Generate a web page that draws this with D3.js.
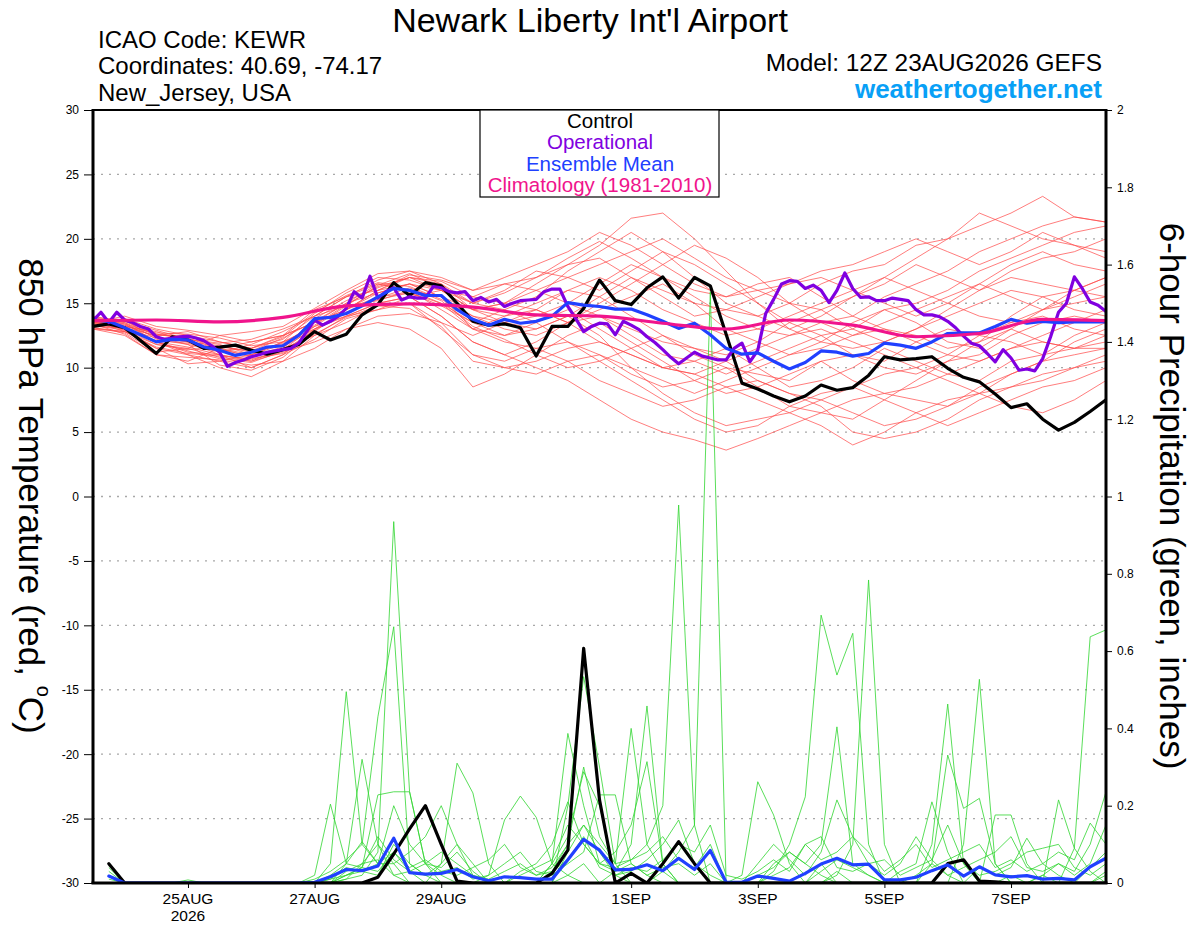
<!DOCTYPE html>
<html><head><meta charset="utf-8">
<script src="https://cdn.jsdelivr.net/npm/d3@7"></script>
<style>
body{margin:0;background:#fff}
svg{display:block}
text{font-family:"Liberation Sans",Arial,Helvetica,sans-serif}
</style>
</head><body>
<svg id="chart" width="1200" height="927"></svg>
<script>
// ---------------- DATA ----------------
const tempTicks = [-30,-25,-20,-15,-10,-5,0,5,10,15,20,25,30];
const precipTicks = [0,0.2,0.4,0.6,0.8,1,1.2,1.4,1.6,1.8,2];
const dateTickDays = ["2026-08-25","2026-08-27","2026-08-29","2026-09-01","2026-09-03","2026-09-05","2026-09-07"];
const dateTickLabels = ["25AUG","27AUG","29AUG","1SEP","3SEP","5SEP","7SEP"];
const legendLabels = ["Control","Operational","Ensemble Mean","Climatology (1981-2010)"];

// control 850 hPa temperature, 6-hourly from 12Z 23AUG
const controlTemp = [13.2,13.4,13.1,12.1,11.1,12.4,12.15,11.5,11.6,11.75,11.35,11.05,11.4,11.8,12.8,12.15,12.6,14.1,14.9,16.6,15.6,16.6,16.35,15.0,13.6,13.3,13.4,13.1,10.9,13.2,13.2,14.6,16.8,15.2,14.9,16.2,17.05,15.4,17.0,16.35,12.6,8.8,8.35,7.8,7.35,7.8,8.65,8.25,8.45,9.4,10.85,10.6,10.7,10.85,9.95,9.25,8.9,7.95,6.9,7.2,6.0,5.15,5.75,6.6,7.5];
// operational run, 3-hourly
const operationalTemp = [13.65,14.3,13.5,14.3,13.7,13.5,13.2,13.0,12.4,12.2,
 12.3,12.4,12.45,12.3,12.1,11.7,11.2,10.1,10.4,10.6,
 10.85,11.0,11.2,11.3,11.4,11.5,11.9,12.8,13.7,13.3,
 13.6,14.0,14.6,15.9,15.4,17.1,15.4,15.9,16.2,15.25,
 15.5,15.4,15.4,16.3,16.2,15.9,15.8,15.9,15.2,15.45,
 15.1,15.3,14.75,15.0,15.2,15.25,15.3,15.9,16.1,16.1,
 14.75,13.8,12.8,13.2,13.45,13.4,12.55,13.6,13.3,12.95,
 12.4,11.95,11.4,10.8,10.3,10.75,11.2,10.9,10.75,10.6,
 10.6,11.5,11.9,10.45,11.35,14.2,15.3,16.5,16.75,16.7,
 16.15,16.4,16.0,15.05,16.0,17.35,16.15,15.45,15.5,15.2,
 15.2,15.4,15.3,15.2,14.5,14.1,14.1,13.95,13.6,13.1,
 12.45,11.9,11.7,11.1,10.45,11.4,10.75,9.8,9.9,9.75,
 10.7,12.4,14.3,15.0,17.05,16.15,15.1,14.85,14.35];
// ensemble mean, 6-hourly
const meanTemp = [13.7,13.6,13.1,12.55,12.0,12.2,12.15,11.6,11.35,10.95,11.2,11.6,11.7,12.5,13.8,13.9,14.2,14.8,15.5,16.15,16.0,15.6,15.6,14.5,13.75,13.3,13.75,13.45,13.6,14.0,15.05,14.85,14.75,14.55,14.55,14.1,13.6,13.05,13.45,12.55,11.5,11.05,11.15,10.5,9.9,10.4,11.3,11.2,10.9,11.1,11.9,11.75,11.5,12.0,12.65,12.7,12.7,13.2,13.75,13.45,13.6,13.5,13.55,13.55,13.55];
// climatology, daily
const climTemp = [13.65,13.7,13.55,13.9,14.8,14.95,14.7,14.1,14.0,13.45,13.0,13.7,13.3,12.4,12.65,13.75,13.65];
// ensemble members, 12-hourly
const memberTemps = [
 [13.5,13.0,12.3,12.0,11.5,11.0,11.8,13.5,14.5,15.8,16.5,16.0,14.5,15.0,16.5,18.0,19.5,21.6,22.0,20.0,17.5,15.0,13.0,12.0,11.5,12.0,13.0,14.0,15.0,16.0,15.5,14.5,14.0],
 [13.8,13.5,12.0,11.0,10.0,9.3,10.5,12.5,14.0,15.0,15.5,14.0,12.0,11.0,10.0,9.0,7.5,6.0,5.0,4.4,3.6,4.5,5.5,6.5,7.5,8.0,7.5,7.0,8.5,9.5,10.5,11.0,11.5],
 [13.2,13.8,13.0,12.5,12.0,11.5,12.2,14.0,15.5,16.8,17.5,17.0,16.0,17.0,18.0,19.0,20.5,19.5,18.0,16.5,15.5,16.5,17.0,15.5,14.0,15.5,16.5,17.5,19.0,20.0,21.0,21.7,21.3],
 [13.6,12.8,11.5,11.0,10.5,10.0,11.0,13.0,14.0,14.5,15.0,13.5,11.0,10.5,11.5,12.0,11.0,9.5,8.5,9.0,10.0,8.5,7.0,6.5,6.0,7.5,9.0,10.5,11.0,12.5,13.5,14.0,13.5],
 [14.0,13.5,12.5,12.8,12.0,11.5,12.5,14.5,15.5,16.0,16.5,15.5,14.0,13.0,12.5,13.5,15.0,16.5,18.0,19.5,18.5,17.0,15.0,14.5,15.5,16.5,18.0,17.0,16.0,17.5,18.5,19.0,20.0],
 [13.0,12.5,11.0,10.5,11.5,12.0,12.5,13.5,15.0,16.5,16.0,14.5,13.0,14.0,15.0,16.0,15.5,14.0,12.5,11.0,10.0,9.5,9.0,10.5,11.0,10.5,12.0,13.0,12.5,13.5,14.5,15.0,15.5],
 [13.4,13.2,12.8,12.0,11.0,10.5,11.5,13.8,15.2,16.2,17.0,16.5,15.0,16.0,17.5,17.0,16.0,17.5,19.0,18.0,16.5,15.0,13.5,12.5,13.0,14.5,13.5,12.0,11.5,13.0,14.5,16.0,17.0],
 [13.7,13.0,11.8,11.5,10.8,10.5,11.2,12.0,13.0,13.5,13.0,11.5,8.5,9.5,11.0,12.5,13.5,12.0,10.5,9.0,8.0,8.5,9.5,10.5,9.0,8.0,8.5,9.5,10.5,11.5,12.0,11.5,12.0],
 [13.3,13.6,12.6,12.2,11.8,11.0,12.0,14.2,15.8,17.0,16.8,16.0,15.5,16.5,16.0,15.0,14.0,13.0,12.0,11.5,11.0,12.0,13.5,14.5,13.0,12.0,13.0,14.5,16.0,17.0,16.5,16.0,15.5],
 [13.9,13.7,12.2,11.8,11.2,11.8,12.8,14.0,14.8,15.2,16.0,15.0,13.5,12.5,13.0,14.0,12.5,10.0,8.0,6.5,5.5,6.0,6.5,7.5,6.5,5.5,6.0,7.0,8.0,9.5,10.5,12.0,13.0],
 [13.1,12.7,11.2,11.5,12.5,12.8,13.2,14.6,16.0,17.3,17.5,16.5,14.5,14.0,14.5,16.0,17.0,16.0,14.5,13.5,12.5,13.0,14.0,15.0,16.0,17.0,16.0,15.0,14.0,13.5,14.0,13.0,12.5],
 [13.6,13.3,12.4,11.8,10.2,9.8,10.8,12.8,14.5,15.5,15.8,15.0,13.0,12.0,11.5,10.5,9.0,8.0,7.0,7.5,8.5,9.0,8.0,7.0,5.0,4.5,5.0,6.0,7.5,8.5,9.5,10.0,11.0],
 [13.5,14.0,13.2,12.9,12.5,12.0,12.5,13.5,14.5,16.0,17.2,16.8,16.0,16.5,17.0,18.0,18.5,17.0,15.5,14.0,14.5,15.5,16.5,17.5,18.0,19.0,20.0,19.0,18.0,19.0,20.5,19.5,18.5],
 [13.8,12.9,11.5,10.3,10.5,11.0,12.0,13.2,14.0,15.0,15.5,14.0,12.0,11.0,12.0,13.5,14.0,12.5,11.0,10.5,9.5,10.5,11.5,12.5,11.0,10.0,9.5,10.5,12.0,13.0,12.0,11.5,11.5],
 [13.2,13.1,12.5,12.5,11.5,10.8,11.5,12.5,13.5,14.8,15.0,13.0,11.0,10.0,9.5,10.5,11.0,10.0,9.0,8.0,9.0,10.0,11.0,11.5,12.5,13.0,12.5,11.5,12.0,14.0,15.5,16.0,17.0],
 [13.6,13.4,12.0,11.2,11.0,10.0,11.0,12.2,13.8,14.5,15.5,16.0,15.0,14.5,15.5,17.5,19.0,20.5,19.0,17.0,15.0,14.0,13.0,14.0,15.5,17.0,18.5,20.0,22.0,21.0,20.0,19.5,19.0],
 [13.4,12.6,11.0,10.8,10.6,10.2,10.5,11.5,13.0,14.0,14.2,13.5,12.5,13.5,14.5,13.5,12.0,11.0,10.0,9.5,8.5,7.5,6.5,5.5,4.0,5.0,6.5,7.5,8.0,7.0,6.5,7.5,9.0],
 [13.7,13.6,12.9,12.2,11.9,12.2,13.0,14.0,15.5,16.5,16.0,15.5,14.5,15.0,14.5,13.5,14.5,15.5,16.5,15.0,13.0,12.0,11.0,12.0,13.5,14.5,15.0,16.0,17.5,18.5,19.5,20.5,21.0],
 [13.0,12.8,11.8,11.4,11.6,11.3,12.3,13.6,15.0,15.8,16.5,15.5,13.0,12.5,13.5,14.5,13.0,11.5,10.0,10.5,11.5,10.0,8.5,9.0,10.0,11.5,10.5,9.5,9.0,10.5,11.0,12.5,13.5],
 [13.5,13.2,12.7,12.6,12.3,11.7,12.0,13.0,14.5,16.0,17.0,16.0,14.5,13.5,13.0,14.0,15.5,17.0,16.0,15.0,14.5,14.0,15.0,16.5,17.5,18.0,19.5,20.0,21.0,22.0,23.3,21.7,21.3],
 [13.4,13.0,12.0,11.6,11.0,10.6,11.4,13.2,14.8,16.4,17.3,16.2,15.0,15.8,17.0,18.5,19.8,18.5,17.0,15.5,14.0,13.0,12.5,13.5,14.0,13.0,12.0,11.0,10.5,11.5,12.5,13.5,14.5],
 [13.9,13.4,12.6,12.3,11.4,10.9,11.6,13.0,14.2,15.4,16.2,15.2,13.2,12.2,11.0,10.0,10.5,11.5,12.5,11.5,10.5,9.0,8.0,7.5,8.5,9.5,10.0,9.0,8.0,8.5,9.0,10.0,10.5],
 [13.3,12.9,12.1,11.9,11.3,11.5,12.4,14.3,15.6,16.6,16.3,15.3,14.0,13.5,14.0,15.0,16.5,18.0,17.0,16.0,15.5,16.0,15.0,13.5,12.5,13.5,14.5,15.5,16.5,15.5,14.5,15.5,16.5],
 [13.6,13.1,12.0,11.3,10.7,10.4,11.3,12.9,14.3,15.3,15.8,14.8,13.5,14.5,13.5,12.0,10.5,9.0,7.5,6.0,5.0,5.5,7.0,8.0,8.5,7.5,6.5,5.5,6.5,7.5,8.5,9.0,10.0],
 [13.5,13.3,12.4,12.0,11.7,11.2,11.9,13.3,14.9,16.3,17.0,16.7,15.5,15.0,16.0,17.0,18.0,19.0,20.0,18.5,17.0,16.0,16.5,17.0,16.0,15.0,14.0,15.0,16.5,18.0,19.0,18.0,17.5],
 [13.1,12.8,11.6,11.1,10.9,10.7,11.1,12.6,13.9,14.8,14.6,13.2,10.5,10.0,10.5,11.5,12.0,11.0,10.0,9.5,10.5,11.5,12.5,13.0,12.0,11.0,10.0,11.0,12.5,12.0,11.0,11.5,12.5]
];
// 6-hour precipitation (inches), 6-hourly starting at +6h
const controlPrecip = [0.05,0,0,0,0,0,0,0, 0,0,0,0,0,0,0,0, 0,0.015,0.075,0.14,0.2,0.1,0.005,0, 0,0,0,0,0.025,0.085,0.607,0.215, 0,0.025,0,0.05,0.107,0.05,0,0, 0,0,0,0,0,0,0,0, 0,0,0,0,0,0.05,0.06,0.005, 0.003,0,0,0,0,0,0,0];
const meanPrecip = [0.018,0,0,0,0,0,0,0, 0,0,0,0,0,0.002,0.016,0.035, 0.032,0.044,0.116,0.027,0.023,0.025,0.035,0.016, 0.006,0.016,0.014,0.01,0.01,0.06,0.113,0.085, 0.034,0.035,0.047,0.032,0.064,0.035,0.084,0.002, 0.002,0.018,0.012,0.005,0.025,0.049,0.064,0.047, 0.049,0.008,0.008,0.015,0.032,0.047,0.018,0.042, 0.021,0.016,0.019,0.01,0.012,0.008,0.042,0.064];
const memberPrecip = [
 [0,0,0,0,0,0,0,0, 0,0,0,0,0,0,0.05,0.495, 0.1,0.05,0.05,0,0,0,0,0, 0,0,0,0,0,0.2,0.534,0.3, 0.05,0,0,0,0,0,0,0, 0,0,0,0,0,0.05,0,0, 0,0,0,0,0,0,0,0, 0,0,0,0,0,0,0,0.02],
 [0.03,0,0,0,0,0,0,0, 0,0,0,0,0,0,0,0.01, 0.02,0.08,0.935,0.236,0.05,0,0,0, 0,0,0,0,0,0.02,0.05,0, 0.03,0.1,0.458,0.05,0,0,0,0, 0,0,0,0,0,0,0.02,0.1, 0.784,0.1,0,0,0,0,0,0, 0,0,0,0.02,0,0,0,0.03],
 [0,0,0,0,0,0.008,0,0, 0,0,0,0,0,0.01,0.03,0.06, 0.1,0.43,0.663,0.05,0.02,0,0,0, 0,0,0,0,0.03,0.1,0.3,0.12, 0.05,0.06,0.1,0.2,0.978,0.15,0,0, 0,0,0,0,0,0,0,0, 0,0,0,0,0.1,0.463,0.05,0, 0,0,0,0,0,0,0,0],
 [0,0,0,0,0,0,0,0, 0,0,0,0,0,0,0,0.02, 0.04,0.228,0.236,0.236,0.05,0.02,0,0, 0,0,0,0,0.05,0.12,0.288,0.2, 0.02,0,0,0.03,0.08,0.15,1.53,0, 0,0,0,0,0,0,0.03,0, 0,0,0,0,0,0,0.1,0.527, 0.05,0,0,0,0,0,0,0],
 [0,0,0,0,0,0,0,0, 0,0,0,0,0,0,0,0.03, 0.05,0.06,0.02,0.03,0,0.05,0.31,0.233, 0.05,0,0,0,0,0.08,0.15,0.1, 0.05,0.4,0.1,0.03,0,0,0,0, 0,0,0.03,0.1,0.223,0.693,0.538,0.646, 0.1,0,0,0,0,0,0,0, 0,0,0,0,0,0,0,0],
 [0,0,0,0,0,0,0,0, 0,0,0,0,0,0.02,0.204,0.05, 0.32,0.1,0.02,0,0,0,0,0, 0.02,0.163,0.225,0.17,0.05,0.02,0,0, 0,0,0,0,0,0,0,0, 0.02,0.262,0.176,0.05,0,0,0,0, 0,0,0,0,0,0,0,0, 0,0.02,0,0,0,0.09,0.637,0.655],
 [0.02,0,0,0,0,0,0,0, 0,0,0,0,0,0,0.01,0.04, 0.03,0.05,0.08,0.03,0.02,0.05,0.1,0.05, 0,0,0,0,0.05,0.387,0.2,0.05, 0.03,0.05,0.02,0,0,0,0,0, 0,0,0.05,0.08,0.05,0.1,0.404,0.05, 0.02,0,0,0,0.05,0.331,0.193,0.219, 0.05,0,0,0.02,0.05,0.03,0.1,0.236],
 [0,0,0,0,0,0,0,0, 0,0,0,0,0,0,0,0.01, 0.05,0.1,0.05,0.08,0.12,0.2,0.1,0.02, 0,0,0.03,0.05,0.1,0.21,0.1,0.05, 0.08,0.15,0.314,0.05,0,0,0,0, 0,0,0,0,0,0.03,0.06,0.04, 0.02,0,0.03,0.05,0.21,0.08,0,0, 0.176,0.176,0.05,0,0.215,0.09,0.03,0],
 [0,0,0,0,0,0,0,0, 0,0,0,0,0,0,0.02,0.05, 0.107,0.05,0.2,0.1,0.05,0.08,0.05,0.02, 0.01,0.03,0.05,0.02,0.04,0.1,0.15,0.08, 0.02,0.03,0.06,0.1,0.163,0.05,0.02,0, 0,0.02,0.04,0.08,0.05,0.02,0,0, 0,0,0,0.02,0.05,0.02,0,0.04, 0.02,0.04,0.116,0.05,0.02,0,0.04,0.08],
 [0.01,0,0,0,0,0,0,0, 0,0,0,0,0,0,0.01,0.02, 0.03,0.02,0.1,0.05,0.02,0.03,0.04,0.01, 0.02,0.05,0.08,0.03,0.02,0.05,0.08,0.228, 0.228,0.05,0.02,0.04,0.05,0.02,0.05,0, 0,0.05,0.1,0.06,0.02,0.08,0.215,0.12, 0.05,0.02,0.05,0.12,0.06,0.02,0.04,0.06, 0.08,0.12,0.04,0.03,0.05,0.02,0.05,0.15],
 [0,0,0,0,0,0,0,0, 0,0,0,0,0,0,0,0.05, 0.04,0.12,0.06,0.03,0.05,0.04,0.08,0.03, 0,0,0.02,0.04,0.06,0.15,0.1,0.05, 0.04,0.06,0.08,0.12,0.06,0.04,0.1,0, 0,0,0.02,0.04,0.1,0.06,0.08,0.12, 0.08,0.03,0.06,0.1,0.04,0.06,0.08,0.1, 0.04,0.06,0.03,0.05,0.08,0.06,0.155,0.1],
 [0.04,0,0,0,0,0,0,0, 0,0,0,0,0,0,0,0.02, 0.04,0.03,0.08,0.04,0.06,0.03,0.02,0.04, 0.06,0.1,0.04,0.02,0.03,0.06,0.12,0.04, 0.02,0.04,0.03,0.06,0.1,0.08,0.15,0.02, 0.01,0.03,0.06,0.03,0.1,0.12,0.04,0.03, 0.05,0.06,0.02,0.04,0.06,0.15,0.05,0.02, 0.03,0.05,0.08,0.09,0.1,0.04,0.02,0.05]
];

// ---------------- CHART ----------------
const svg = d3.select("#chart");
const W = 1200, H = 927;
const m = {left: 93, right: 1106, top: 110, bottom: 883};
const t0 = Date.UTC(2026,7,23,12);
const HOUR = 3600e3;
const x = d3.scaleUtc().domain([new Date(t0), new Date(t0 + 384*HOUR)]).range([m.left, m.right]);
const yT = d3.scaleLinear().domain([-30,30]).range([m.bottom, m.top]);
const yP = d3.scaleLinear().domain([0,2]).range([m.bottom, m.top]);

const C = {
  member:"#ff4a4a", precip:"#33d633", control:"#000000", oper:"#8000e0",
  mean:"#2040ff", clim:"#f0148c", site:"#08a0f6"
};

svg.append("rect").attr("width",W).attr("height",H).attr("fill","#fff");
svg.append("defs").append("clipPath").attr("id","plotclip")
  .append("rect").attr("x",m.left).attr("y",m.top).attr("width",m.right-m.left).attr("height",m.bottom-m.top);

// gridlines
svg.append("g").selectAll("line").data(tempTicks.filter(d=>d>-30 && d<30)).join("line")
  .attr("x1",m.left).attr("x2",m.right).attr("y1",d=>yT(d)).attr("y2",d=>yT(d))
  .attr("stroke","#a8a8a8").attr("stroke-width",1.3).attr("stroke-dasharray","2,6");

const plot = svg.append("g").attr("clip-path","url(#plotclip)");
const timeAt = (i, step, off=0) => new Date(t0 + (i+off)*step*HOUR);
const lineFor = (yScale, step, off=0, curve=d3.curveLinear) =>
  d3.line().x((d,i)=>x(timeAt(i,step,off))).y(d=>yScale(d)).curve(curve);

// ensemble member temperatures
plot.append("g").selectAll("path").data(memberTemps).join("path")
  .attr("d", lineFor(yT,12)).attr("fill","none")
  .attr("stroke",C.member).attr("stroke-opacity",0.8).attr("stroke-width",0.9);

// ensemble member precipitation
plot.append("g").selectAll("path").data(memberPrecip).join("path")
  .attr("d", lineFor(yP,6,1)).attr("fill","none")
  .attr("stroke",C.precip).attr("stroke-opacity",0.9).attr("stroke-width",0.9);

const thick = (sel) => sel.attr("fill","none").attr("stroke-width",3.2)
  .attr("stroke-linejoin","round").attr("stroke-linecap","round");

// control
plot.append("path").datum(controlPrecip).attr("d",lineFor(yP,6,1)).call(thick).attr("stroke",C.control);
plot.append("path").datum(controlTemp).attr("d",lineFor(yT,6)).call(thick).attr("stroke",C.control);
// operational
plot.append("path").datum(operationalTemp).attr("d",lineFor(yT,3)).call(thick).attr("stroke",C.oper);
// ensemble mean
plot.append("path").datum(meanPrecip).attr("d",lineFor(yP,6,1)).call(thick).attr("stroke",C.mean);
plot.append("path").datum(meanTemp).attr("d",lineFor(yT,6)).call(thick).attr("stroke",C.mean);
// climatology
plot.append("path").datum(climTemp).attr("d",lineFor(yT,24,0,d3.curveMonotoneX)).call(thick).attr("stroke",C.clim);

// axes
const fontTick = "Liberation Sans, Arial, sans-serif";
const gL = svg.append("g").attr("transform",`translate(${m.left},0)`)
  .call(d3.axisLeft(yT).tickValues(tempTicks).tickSize(9).tickPadding(5).tickFormat(d=>String(d)));
const gR = svg.append("g").attr("transform",`translate(${m.right},0)`)
  .call(d3.axisRight(yP).tickValues(precipTicks).tickSize(6).tickPadding(5).tickFormat(d=>String(d)));
const gB = svg.append("g").attr("transform",`translate(0,${m.bottom})`)
  .call(d3.axisBottom(x).tickValues(dateTickDays.map(s=>new Date(s+"T00:00:00Z"))).tickSize(5).tickFormat(""));
[gL,gR,gB].forEach(g=>{
  g.select(".domain").remove();
  g.selectAll(".tick line").attr("stroke","#000").attr("stroke-width",1);
  g.selectAll(".tick text").attr("font-size",12).attr("font-family",fontTick).attr("fill","#000");
});

// date labels
const dl = svg.append("g");
dl.selectAll("text").data(dateTickDays).join("text")
  .attr("x",d=>x(new Date(d+"T00:00:00Z"))).attr("y",904)
  .attr("text-anchor","middle").attr("font-size",15.5).text((d,i)=>dateTickLabels[i]);
dl.append("text").attr("x",x(new Date(dateTickDays[0]+"T00:00:00Z"))).attr("y",921)
  .attr("text-anchor","middle").attr("font-size",15.5).text("2026");

// frame
const fr = svg.append("g").attr("stroke","#000");
fr.append("line").attr("x1",m.left-1.5).attr("x2",m.right+1.5).attr("y1",m.top).attr("y2",m.top).attr("stroke-width",2);
fr.append("line").attr("x1",m.left-1.5).attr("x2",m.right+1.5).attr("y1",m.bottom).attr("y2",m.bottom).attr("stroke-width",3);
fr.append("line").attr("x1",m.left).attr("x2",m.left).attr("y1",m.top).attr("y2",m.bottom).attr("stroke-width",3);
fr.append("line").attr("x1",m.right).attr("x2",m.right).attr("y1",m.top).attr("y2",m.bottom).attr("stroke-width",3);

// legend
const lg = svg.append("g");
lg.append("rect").attr("x",480).attr("y",m.top).attr("width",239).attr("height",87)
  .attr("fill","#fff").attr("stroke","#000").attr("stroke-width",1.2);
const legColors = [C.control,C.oper,C.mean,C.clim];
lg.selectAll("text").data(legendLabels).join("text")
  .attr("x",600).attr("y",(d,i)=>128+i*21.3).attr("text-anchor","middle")
  .attr("font-size",20.5).attr("fill",(d,i)=>legColors[i]).text(d=>d);

// header
svg.append("text").attr("x",590).attr("y",32).attr("text-anchor","middle").attr("font-size",34).text("Newark Liberty Int'l Airport");
const hdr = ["ICAO Code: KEWR","Coordinates: 40.69, -74.17","New_Jersey, USA"];
svg.append("g").selectAll("text").data(hdr).join("text")
  .attr("x",98).attr("y",(d,i)=>48+i*26.3).attr("font-size",24).text(d=>d);
svg.append("text").attr("x",1102).attr("y",71).attr("text-anchor","end").attr("font-size",24.4).text("Model: 12Z 23AUG2026 GEFS");
svg.append("text").attr("x",1102).attr("y",98).attr("text-anchor","end").attr("font-size",26)
  .attr("font-weight","bold").attr("fill",C.site).text("weathertogether.net");

// axis titles
const lt = svg.append("text").attr("transform","translate(32,496) rotate(90)")
  .attr("text-anchor","middle").attr("dominant-baseline","central").attr("font-size",35);
lt.append("tspan").text("850 hPa Temperature (red, ");
lt.append("tspan").attr("font-size",20).attr("dy",-12).text("o");
lt.append("tspan").attr("dy",12).text("C)");
svg.append("text").attr("transform","translate(1172,496) rotate(90)")
  .attr("text-anchor","middle").attr("dominant-baseline","central").attr("font-size",35)
  .text("6-hour Precipitation (green, inches)");
</script>
</body></html>
